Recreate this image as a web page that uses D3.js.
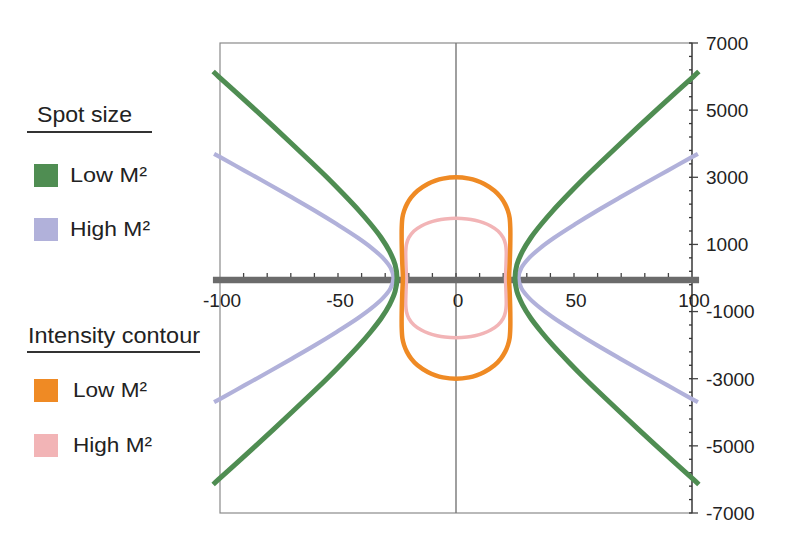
<!DOCTYPE html>
<html>
<head>
<meta charset="utf-8">
<script src="https://cdn.jsdelivr.net/npm/d3@7"></script>
<style>
  html, body { margin: 0; padding: 0; background: #ffffff; }
  svg { display: block; }
  text { font-family: "Liberation Sans", Arial, Helvetica, sans-serif; fill: #222; }
</style>
</head>
<body>
<svg id="chart" width="800" height="539"></svg>
<script>
// ---------------- data ----------------
const xTickLabels = [-100, -50, 0, 50, 100];
const xMinorTicks = [-90, -80, -70, -60, -50, -40, -30, -20, -10, 0, 10, 20, 30, 40, 50, 60, 70, 80, 90];
const yTickLabels = [7000, 5000, 3000, 1000, -1000, -3000, -5000, -7000];
const yMinorTicks = [-7000, -6600, -6200, -5800, -5400, -5000, -4600, -4200, -3800, -3400, -3000, -2600, -2200, -1800, -1400, -1000, -600, -200, 200, 600, 1000, 1400, 1800, 2200, 2600, 3000, 3400, 3800, 4200, 4600, 5000, 5400, 5800, 6200, 6600, 7000];
const axisLineExtent = [-103, 103];

// Spot size, low M2 (green) — right and left branches
const spotLowRight = [[102.9,-6150],[100.6,-6000],[92.7,-5500],[84.9,-5000],[77.2,-4500],[69.6,-4000],[62.1,-3500],[54.7,-3000],[47.7,-2500],[41,-2000],[36.1,-1600],[31.7,-1200],[28.2,-800],[25.8,-400],[25,0],[25.8,400],[28.2,800],[31.7,1200],[36.1,1600],[41,2000],[47.7,2500],[54.7,3000],[62.1,3500],[69.6,4000],[77.2,4500],[84.9,5000],[92.7,5500],[100.6,6000],[102.9,6150]];
const spotLowLeft = [[-102.9,-6150],[-100.6,-6000],[-92.7,-5500],[-84.9,-5000],[-77.2,-4500],[-69.6,-4000],[-62.1,-3500],[-54.7,-3000],[-47.7,-2500],[-41,-2000],[-36.1,-1600],[-31.7,-1200],[-28.2,-800],[-25.8,-400],[-25,0],[-25.8,400],[-28.2,800],[-31.7,1200],[-36.1,1600],[-41,2000],[-47.7,2500],[-54.7,3000],[-62.1,3500],[-69.6,4000],[-77.2,4500],[-84.9,5000],[-92.7,5500],[-100.6,6000],[-102.9,6150]];

// Spot size, high M2 (lavender)
const spotHighRight = [[102.5,-3700],[99.9,-3600],[89.7,-3200],[79.5,-2800],[69.5,-2400],[59.7,-2000],[50.4,-1600],[41.6,-1200],[35.8,-900],[31,-600],[27.7,-300],[26.5,0],[27.7,300],[31,600],[35.8,900],[41.6,1200],[50.4,1600],[59.7,2000],[69.5,2400],[79.5,2800],[89.7,3200],[99.9,3600],[102.5,3700]];
const spotHighLeft = [[-102.5,-3700],[-99.9,-3600],[-89.7,-3200],[-79.5,-2800],[-69.5,-2400],[-59.7,-2000],[-50.4,-1600],[-41.6,-1200],[-35.8,-900],[-31,-600],[-27.7,-300],[-26.5,0],[-27.7,300],[-31,600],[-35.8,900],[-41.6,1200],[-50.4,1600],[-59.7,2000],[-69.5,2400],[-79.5,2800],[-89.7,3200],[-99.9,3600],[-102.5,3700]];

// Intensity contour, low M2 (orange) — closed loop
const contourLow = [[0,3000],[5.6,2960],[8.7,2900],[12,2800],[16.3,2600],[19,2400],[20.8,2200],[22,2000],[22.7,1800],[23,1500],[23,1000],[22.8,500],[22.5,0],[22.8,-500],[23,-1000],[23,-1500],[22.7,-1800],[22,-2000],[20.8,-2200],[19,-2400],[16.3,-2600],[12,-2800],[8.7,-2900],[5.6,-2960],[0,-3000],[-5.6,-2960],[-8.7,-2900],[-12,-2800],[-16.3,-2600],[-19,-2400],[-20.8,-2200],[-22,-2000],[-22.7,-1800],[-23,-1500],[-23,-1000],[-22.8,-500],[-22.5,0],[-22.8,500],[-23,1000],[-23,1500],[-22.7,1800],[-22,2000],[-20.8,2200],[-19,2400],[-16.3,2600],[-12,2800],[-8.7,2900],[-5.6,2960]];

// Intensity contour, high M2 (pink) — closed loop
const contourHigh = [[0,1780],[4.7,1760],[8,1720],[11.5,1650],[14.7,1550],[17.8,1400],[20,1200],[21,1000],[21.3,800],[21.2,400],[21,0],[21.2,-400],[21.3,-800],[21,-1000],[20,-1200],[17.8,-1400],[14.7,-1550],[11.5,-1650],[8,-1720],[4.7,-1760],[0,-1780],[-4.7,-1760],[-8,-1720],[-11.5,-1650],[-14.7,-1550],[-17.8,-1400],[-20,-1200],[-21,-1000],[-21.3,-800],[-21.2,-400],[-21,0],[-21.2,400],[-21.3,800],[-21,1000],[-20,1200],[-17.8,1400],[-14.7,1550],[-11.5,1650],[-8,1720],[-4.7,1760]];

const legendGroups = [
  { title: "Spot size", items: [ { label: "Low M²", key: "spotLow" }, { label: "High M²", key: "spotHigh" } ] },
  { title: "Intensity contour", items: [ { label: "Low M²", key: "contourLow" }, { label: "High M²", key: "contourHigh" } ] }
];

// ---------------- styles ----------------
const colors = {
  spotLow: "#4f8d52",
  spotHigh: "#b1b1da",
  contourLow: "#ef8a24",
  contourHigh: "#f2b4b6"
};
const widths = { spotLow: 5, spotHigh: 4.2, contourLow: 4.5, contourHigh: 3.6 };

// ---------------- drawing ----------------
const svg = d3.select("#chart");
const x = d3.scaleLinear().domain([-100, 100]).range([220, 692]);
const y = d3.scaleLinear().domain([-7000, 7000]).range([513, 43]);

// frame
svg.append("rect")
  .attr("x", x(-100)).attr("y", y(7000))
  .attr("width", x(100) - x(-100)).attr("height", y(-7000) - y(7000))
  .attr("fill", "none").attr("stroke", "#8a8a8a").attr("stroke-width", 1.2);

// vertical center line
svg.append("line")
  .attr("x1", x(0)).attr("x2", x(0)).attr("y1", y(7000)).attr("y2", y(-7000))
  .attr("stroke", "#777").attr("stroke-width", 1.4);

// right axis line
svg.append("line")
  .attr("x1", x(100)).attr("x2", x(100)).attr("y1", y(7000)).attr("y2", y(-7000))
  .attr("stroke", "#555").attr("stroke-width", 1.6);

// right axis minor ticks (inward)
svg.append("g").selectAll("line").data(yMinorTicks).join("line")
  .attr("x1", x(100) - 3).attr("x2", x(100))
  .attr("y1", d => y(d)).attr("y2", d => y(d))
  .attr("stroke", "#333").attr("stroke-width", 1.3);

// right axis major ticks (outward) + labels
svg.append("g").selectAll("line").data(yTickLabels).join("line")
  .attr("x1", x(100)).attr("x2", x(100) + 6)
  .attr("y1", d => y(d)).attr("y2", d => y(d))
  .attr("stroke", "#444").attr("stroke-width", 1.3);

svg.append("g").selectAll("text").data(yTickLabels).join("text")
  .attr("x", x(100) + 14).attr("y", d => y(d))
  .attr("dy", "0.36em")
  .attr("font-size", 19)
  .text(d => d);

// horizontal thick axis line
svg.append("line")
  .attr("x1", x(axisLineExtent[0])).attr("x2", x(axisLineExtent[1]))
  .attr("y1", y(0) + 2).attr("y2", y(0) + 2)
  .attr("stroke", "#6b6b6b").attr("stroke-width", 6.5);

// x ticks (upward)
svg.append("g").selectAll("line").data(xMinorTicks).join("line")
  .attr("x1", d => x(d)).attr("x2", d => x(d))
  .attr("y1", y(0) - 1).attr("y2", y(0) - 5)
  .attr("stroke", "#444").attr("stroke-width", 1.3);

// x labels
svg.append("g").selectAll("text").data(xTickLabels).join("text")
  .attr("x", d => x(d) + 2).attr("y", y(0) + 22)
  .attr("dy", "0.36em")
  .attr("text-anchor", "middle")
  .attr("font-size", 19)
  .text(d => d);

// curves
const openLine = d3.line().x(d => x(d[0])).y(d => y(d[1])).curve(d3.curveCatmullRom.alpha(0.5));
const closedLine = d3.line().x(d => x(d[0])).y(d => y(d[1])).curve(d3.curveCatmullRomClosed.alpha(0.5));

const curveDefs = [
  { data: spotHighRight, key: "spotHigh", closed: false },
  { data: spotHighLeft, key: "spotHigh", closed: false },
  { data: spotLowRight, key: "spotLow", closed: false },
  { data: spotLowLeft, key: "spotLow", closed: false },
  { data: contourHigh, key: "contourHigh", closed: true },
  { data: contourLow, key: "contourLow", closed: true }
];

svg.append("g").selectAll("path").data(curveDefs).join("path")
  .attr("d", d => (d.closed ? closedLine : openLine)(d.data))
  .attr("fill", "none")
  .attr("stroke", d => colors[d.key])
  .attr("stroke-width", d => widths[d.key])
  .attr("stroke-linejoin", "round");

// legend
const legendLayout = [
  { titleX: 37, titleY: 122, titleLen: 95, lineX1: 27, lineX2: 152, lineY: 132, textX: 70, rows: [164, 218], lens: [77, 80] },
  { titleX: 28, titleY: 343, titleLen: 172, lineX1: 27, lineX2: 200, lineY: 352, textX: 73, rows: [379, 434], lens: [74, 79] }
];

legendGroups.forEach((g, i) => {
  const L = legendLayout[i];
  const lg = svg.append("g");
  lg.append("text").attr("x", L.titleX).attr("y", L.titleY).attr("font-size", 22)
    .attr("textLength", L.titleLen).attr("lengthAdjust", "spacingAndGlyphs").text(g.title);
  lg.append("line").attr("x1", L.lineX1).attr("x2", L.lineX2).attr("y1", L.lineY).attr("y2", L.lineY)
    .attr("stroke", "#333").attr("stroke-width", 2);
  g.items.forEach((it, j) => {
    lg.append("rect").attr("x", 34).attr("y", L.rows[j]).attr("width", 24).attr("height", 23)
      .attr("fill", colors[it.key]);
    lg.append("text").attr("x", L.textX).attr("y", L.rows[j] + 18).attr("font-size", 21)
      .attr("textLength", L.lens[j]).attr("lengthAdjust", "spacingAndGlyphs").text(it.label);
  });
});
</script>
</body>
</html>
